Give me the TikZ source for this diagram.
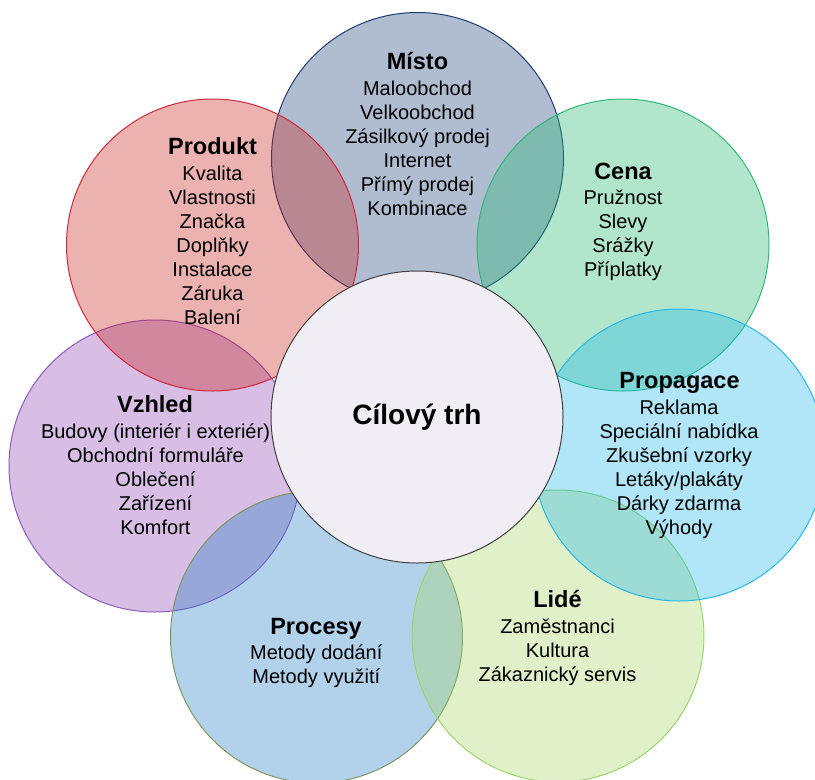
\documentclass[tikz,border=0pt]{standalone}
\usepackage{fontspec}
\setmainfont{Liberation Sans}
\definecolor{mistoF}{RGB}{29,63,121}
\definecolor{mistoD}{RGB}{31,59,115}
\definecolor{produktF}{RGB}{198,35,29}
\definecolor{produktD}{RGB}{208,40,60}
\definecolor{cenaF}{RGB}{35,184,109}
\definecolor{cenaD}{RGB}{48,184,120}
\definecolor{propF}{RGB}{29,184,235}
\definecolor{propD}{RGB}{40,184,232}
\definecolor{lideF}{RGB}{166,212,98}
\definecolor{lideD}{RGB}{156,212,108}
\definecolor{procF}{RGB}{35,126,201}
\definecolor{procD}{RGB}{126,150,96}
\definecolor{vzhF}{RGB}{143,69,178}
\definecolor{vzhD}{RGB}{142,92,192}
\definecolor{centF}{RGB}{240,238,244}
\definecolor{centD}{RGB}{64,64,64}
\begin{document}
\begin{tikzpicture}[x=1pt,y=-1pt,
  petal/.style={circle, minimum size=292pt, inner sep=0pt, line width=1pt, fill opacity=0.35},
  hub/.style={circle, minimum size=292pt, inner sep=0pt, line width=1pt, fill=centF, draw=centD},
  item/.style={font=\fontsize{20}{24}\selectfont, anchor=base, inner sep=0pt},
  head/.style={font=\fontsize{23.5}{28}\selectfont\bfseries, anchor=base, inner sep=0pt},
  hubtext/.style={font=\fontsize{28}{32}\selectfont\bfseries, anchor=base, inner sep=0pt}]
\useasboundingbox (0,0) rectangle (815,780);
% circles (drawing order matters for overlaps)
\node[petal, fill=vzhF, draw=vzhD] (cVzhled) at (155,466) {};
\node[petal, fill=procF, draw=procD] (cProcesy) at (316.5,637) {};
\node[petal, fill=lideF, draw=lideD] (cLide) at (558,636) {};
\node[petal, fill=mistoF, draw=mistoD] (cMisto) at (417.5,158.5) {};
\node[petal, fill=produktF, draw=produktD] (cProdukt) at (212.5,245) {};
\node[petal, fill=cenaF, draw=cenaD] (cCena) at (623,245) {};
\node[petal, fill=propF, draw=propD] (cProp) at (679,455) {};
\node[hub] (cHub) at (417,417) {};
% texts
\node[hubtext] (tHub) at (417,424) {Cílový trh};

\node[head] (hMisto) at (417.5,69) {Místo};
\foreach \t [count=\i] in {Maloobchod,Velkoobchod,Zásilkový prodej,Internet,Přímý prodej,Kombinace}
  \node[item] (misto-\i) at (417.5,{95+24*(\i-1)}) {\t};

\node[head] (hProdukt) at (212.5,154.5) {Produkt};
\foreach \t [count=\i] in {Kvalita,Vlastnosti,Značka,Doplňky,Instalace,Záruka,Balení}
  \node[item] (produkt-\i) at (212.5,{180.5+24*(\i-1)}) {\t};

\node[head] (hCena) at (623,179) {Cena};
\foreach \t [count=\i] in {Pružnost,Slevy,Srážky,Příplatky}
  \node[item] (cena-\i) at (623,{204.5+24*(\i-1)}) {\t};

\node[head] (hProp) at (679.5,388.5) {Propagace};
\foreach \t [count=\i] in {Reklama,Speciální nabídka,Zkušební vzorky,Letáky/plakáty,Dárky zdarma,Výhody}
  \node[item] (prop-\i) at (679,{414.5+24*(\i-1)}) {\t};

\node[head] (hVzhled) at (155,412.5) {Vzhled};
\foreach \t [count=\i] in {Budovy (interiér i exteriér),Obchodní formuláře,Oblečení,Zařízení,Komfort}
  \node[item] (vzh-\i) at (155.5,{438.5+24*(\i-1)}) {\t};

\node[head] (hProcesy) at (316,634.5) {Procesy};
\foreach \t [count=\i] in {Metody dodání,Metody využití}
  \node[item] (proc-\i) at (316.3,{659.5+24*(\i-1)}) {\t};

\node[head] (hLide) at (557.5,607.5) {Lidé};
\foreach \t [count=\i] in {Zaměstnanci,Kultura,Zákaznický servis}
  \node[item] (lide-\i) at (557.5,{633.5+24*(\i-1)}) {\t};
\end{tikzpicture}
\end{document}
